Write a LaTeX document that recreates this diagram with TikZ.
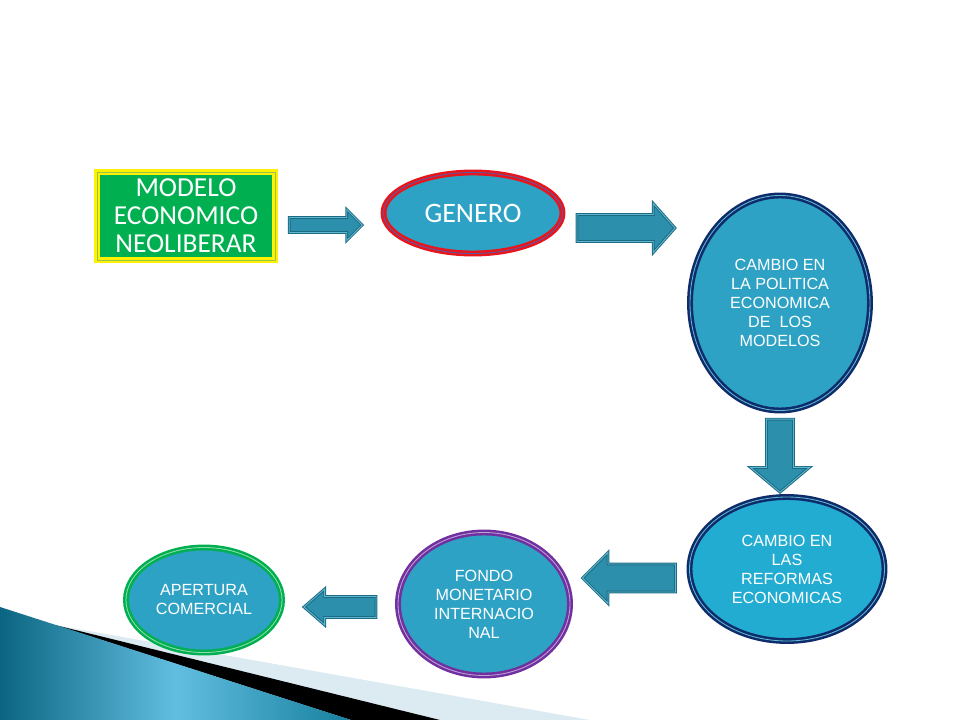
\documentclass[tikz,border=0pt]{standalone}
\usepackage{fontspec}
\setmainfont{Carlito}
\newfontfamily\arialfont{Liberation Sans}
\usetikzlibrary{shapes.geometric,shapes.arrows,positioning}
\newlength\pxu
\setlength\pxu{0.025cm}
\definecolor{bubblefill}{HTML}{2EA2C4}
\definecolor{reffill}{HTML}{22ACD2}
\definecolor{navyline}{HTML}{0E2C6C}
\definecolor{arrowfill}{HTML}{2C8FAB}
\definecolor{arrowedge}{HTML}{1C6B84}
\definecolor{arrowlight}{HTML}{62B8D0}
\definecolor{boxgreen}{HTML}{00B050}
\definecolor{redline}{HTML}{E8161C}
\definecolor{purpleline}{HTML}{7030A0}
\definecolor{decodark}{HTML}{0B6582}
\definecolor{decolight}{HTML}{62BEE0}
\definecolor{decomid}{HTML}{17809F}
\definecolor{decopale}{HTML}{DCEBF1}
\begin{document}
\begin{tikzpicture}[x=0.025cm, y=-0.025cm,
    bubble/.style = {ellipse, fill=bubblefill, inner sep=0pt, align=center, text=white,
      line width=1.8pt, double distance=0.6pt,
      font=\arialfont\fontsize{11.5}{13.5}\selectfont},
    blockarrow/.style = {single arrow, fill=arrowfill, draw=arrowedge, double=arrowlight,
      line width=0.7pt, double distance=0.6pt, inner xsep=0pt, single arrow head indent=0pt}]
        \useasboundingbox (0,0) rectangle (960,720);
        % corner decoration
        \fill[decopale] (55,625) -- (590,720) -- (440,720) -- cycle;
        \fill[black] (55,625) -- (440,720) -- (351,720) -- cycle;
        \shade[left color=decodark, right color=decomid, middle color=decolight]
          (0,607) -- (351,720) -- (0,720) -- cycle;
        %
        \node[rectangle, fill=boxgreen, draw=yellow, double=yellow!55!boxgreen,
          line width=2pt, double distance=0.7pt, minimum width=178\pxu, minimum height=88\pxu,
          inner sep=0pt, align=center, text=white, font=\fontsize{19.5}{20}\selectfont]
          (mod) at (186,216) {MODELO\\ECONOMICO\\NEOLIBERAR};
        \node[bubble, draw=redline, double=gray!70!blue, minimum width=179\pxu, minimum height=81\pxu,
          font=\fontsize{20}{20}\selectfont]
          (gen) [node distance=287\pxu, right of=mod, yshift=3\pxu] {GENERO};
        \node[bubble, draw=navyline, double=arrowlight, minimum width=180\pxu, minimum height=215\pxu]
          (pol) [node distance=307\pxu, right of=gen, yshift=-90\pxu]
          {CAMBIO EN\\LA POLITICA\\ECONOMICA\\DE\ \ LOS\\MODELOS};
        \node[bubble, fill=reffill, draw=navyline, double=arrowlight, minimum width=195\pxu, minimum height=144\pxu]
          (ref) [node distance=266\pxu, below of=pol, xshift=7\pxu]
          {CAMBIO EN\\LAS\\REFORMAS\\ECONOMICAS};
        \node[bubble, draw=purpleline, double=purpleline!45!white, minimum width=172\pxu, minimum height=143\pxu]
          (fmi) [node distance=303\pxu, left of=ref, yshift=-35\pxu]
          {FONDO\\MONETARIO\\INTERNACIO\\NAL};
        \node[bubble, draw=boxgreen, double=boxgreen!45!white, minimum width=156\pxu, minimum height=105\pxu]
          (ape) [node distance=280\pxu, left of=fmi, yshift=4\pxu]
          {APERTURA\\COMERCIAL};
        %
        \node[blockarrow, minimum height=73\pxu, inner ysep=7\pxu, single arrow head extend=8\pxu,
          single arrow tip angle=90] (a1) at (322,225) {};
        \node[blockarrow, minimum height=98\pxu, inner ysep=13\pxu, single arrow head extend=11\pxu,
          single arrow tip angle=97] (a2) at (620,228) {};
        \node[blockarrow, minimum height=73\pxu, inner ysep=13\pxu, single arrow head extend=16\pxu,
          single arrow tip angle=100, rotate=-90] (a3) at (780,450) {};
        \node[blockarrow, minimum height=93\pxu, inner ysep=13.5\pxu, single arrow head extend=11.5\pxu,
          single arrow tip angle=90, rotate=180] (a4) at (636,578) {};
        \node[blockarrow, minimum height=72\pxu, inner ysep=10\pxu, single arrow head extend=7.5\pxu,
          single arrow tip angle=82, rotate=180] (a5) at (346,607) {};
      \end{tikzpicture}
\end{document}
